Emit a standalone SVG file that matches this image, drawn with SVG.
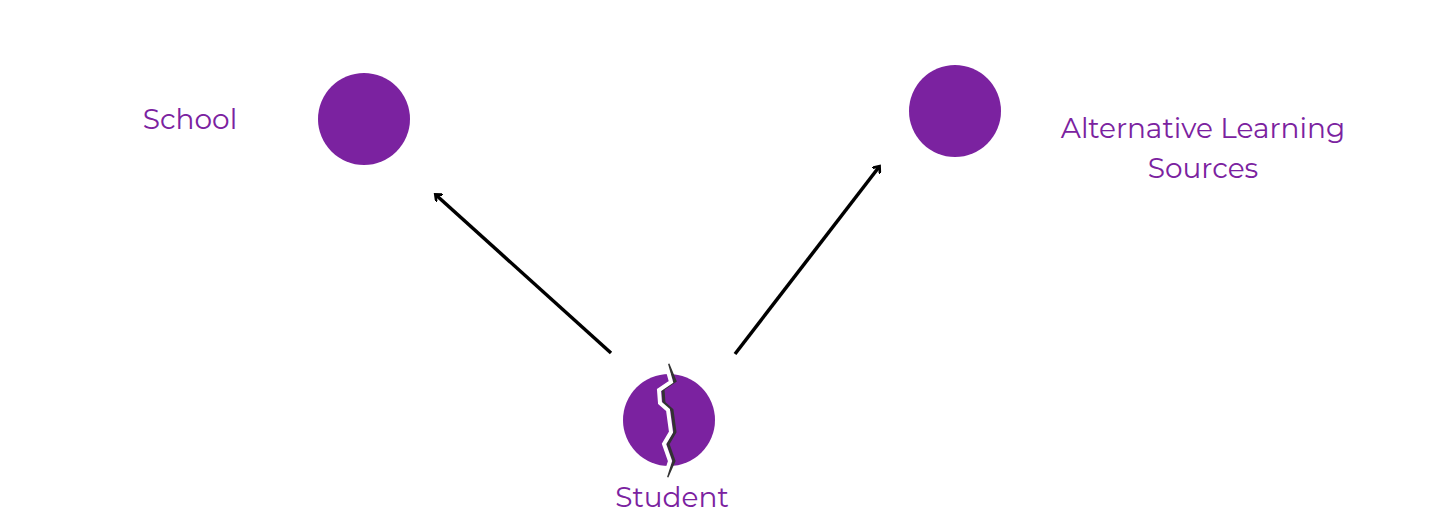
<svg xmlns="http://www.w3.org/2000/svg" width="1440" height="530" viewBox="0 0 1440 530">
<defs>
<style>
.n{fill:#7b22a0}
.t{font-family:Montserrat,"Open Sans","Liberation Sans",sans-serif;font-size:28px;fill:#7b22a0;text-anchor:middle}
.c{stroke:#000;stroke-width:3.5;fill:none}
</style>
<marker id="a" markerWidth="10" markerHeight="10" refX="5" refY="5" orient="auto" markerUnits="userSpaceOnUse" viewBox="0 0 10 10"><path d="M0,0 L6,5 L0,10" fill="none" stroke="#000" stroke-width="2.6"/></marker>
</defs>
<rect width="1440" height="530" fill="#fff"/>
<g id="school"><circle class="n" cx="364" cy="119" r="46"/><text class="t" x="190" y="129">School</text></g>
<g id="alt"><circle class="n" cx="955" cy="111" r="46"/><text class="t" x="1203" y="138">Alternative Learning</text><text class="t" x="1203" y="178">Sources</text></g>
<g id="student"><circle class="n" cx="669" cy="420" r="46"/>
<polyline points="666,364 673,381 661,389 662,403 670,410 673,432 666,444 672,461 665,477" fill="none" stroke="#333" stroke-width="3" transform="translate(2,0)"/>
<polyline points="666,364 671,382 659,390 660,403 668,410 671,432 664,444 670,461 665,477" fill="none" stroke="#fff" stroke-width="4"/>
<text class="t" x="672" y="507">Student</text></g>
<g id="connectors">
<line class="c" x1="611" y1="353" x2="436" y2="195" marker-end="url(#a)"/>
<line class="c" x1="735" y1="354" x2="879" y2="167" marker-end="url(#a)"/>
</g>
</svg>
